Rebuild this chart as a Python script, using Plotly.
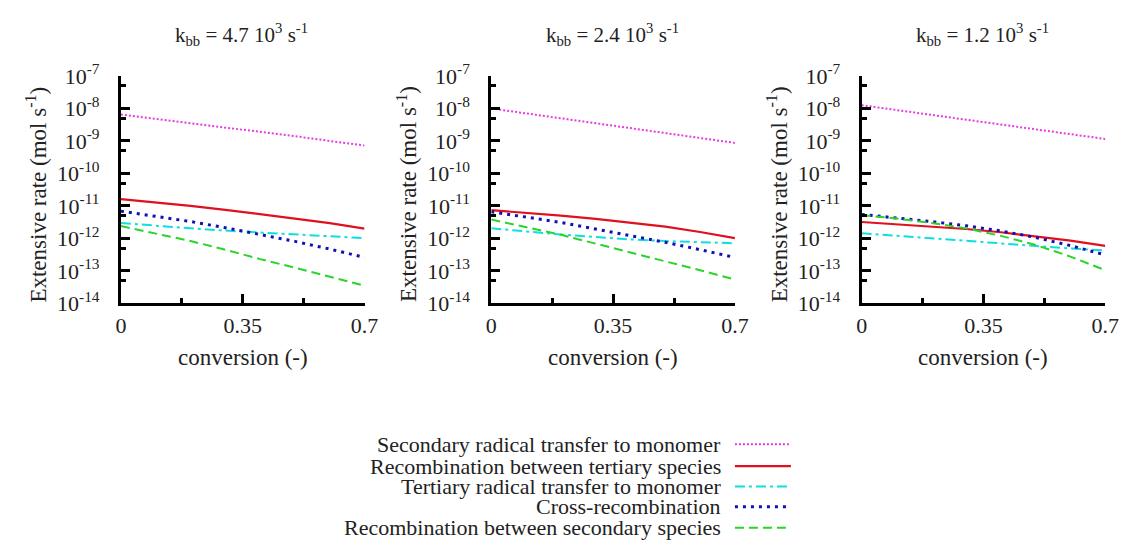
import plotly.graph_objects as go

W, H = 1136, 553

# ---------------- data ----------------
conversion = [0.0, 0.1, 0.2, 0.3, 0.4, 0.5, 0.6, 0.7]

panel_titles = [
    "k<sub>bb</sub> = 4.7 10<sup>3</sup> s<sup>-1</sup>",
    "k<sub>bb</sub> = 2.4 10<sup>3</sup> s<sup>-1</sup>",
    "k<sub>bb</sub> = 1.2 10<sup>3</sup> s<sup>-1</sup>",
]

series_names = [
    "Secondary radical transfer to monomer",
    "Recombination between tertiary species",
    "Tertiary radical transfer to monomer",
    "Cross-recombination",
    "Recombination between secondary species",
]

# kbb = 4.7e3
sec_transfer_47 = [6.5e-9, 4.8e-9, 3.5e-9, 2.5e-9, 1.9e-9, 1.4e-9, 1.0e-9, 7.2e-10]
tert_recomb_47 = [1.62e-11, 1.29e-11, 1.0e-11, 7.6e-12, 5.6e-12, 4.1e-12, 2.95e-12, 2.0e-12]
tert_transfer_47 = [3.0e-12, 2.45e-12, 2.04e-12, 1.74e-12, 1.51e-12, 1.32e-12, 1.15e-12, 1.02e-12]
cross_recomb_47 = [6.9e-12, 4.9e-12, 3.3e-12, 2.14e-12, 1.35e-12, 8.1e-13, 4.7e-13, 2.6e-13]
sec_recomb_47 = [2.4e-12, 1.45e-12, 8.3e-13, 4.5e-13, 2.3e-13, 1.26e-13, 6.8e-14, 3.5e-14]

# kbb = 2.4e3
sec_transfer_24 = [1.0e-8, 7.1e-9, 5.0e-9, 3.5e-9, 2.45e-9, 1.74e-9, 1.23e-9, 8.7e-10]
tert_recomb_24 = [7.4e-12, 6.2e-12, 5.0e-12, 4.0e-12, 3.1e-12, 2.3e-12, 1.58e-12, 1.02e-12]
tert_transfer_24 = [2.04e-12, 1.62e-12, 1.32e-12, 1.1e-12, 9.3e-13, 8.3e-13, 7.6e-13, 7.1e-13]
cross_recomb_24 = [6.6e-12, 4.6e-12, 3.1e-12, 1.95e-12, 1.23e-12, 7.6e-13, 4.5e-13, 2.6e-13]
sec_recomb_24 = [3.8e-12, 2.24e-12, 1.29e-12, 6.9e-13, 3.7e-13, 2.0e-13, 1.05e-13, 5.4e-14]

# kbb = 1.2e3
sec_transfer_12 = [1.26e-8, 8.9e-9, 6.3e-9, 4.5e-9, 3.2e-9, 2.3e-9, 1.62e-9, 1.15e-9]
tert_recomb_12 = [3.2e-12, 2.75e-12, 2.34e-12, 1.95e-12, 1.55e-12, 1.17e-12, 8.5e-13, 5.9e-13]
tert_transfer_12 = [1.45e-12, 1.2e-12, 1.0e-12, 8.3e-13, 6.8e-13, 5.8e-13, 4.9e-13, 4.3e-13]
cross_recomb_12 = [5.5e-12, 4.3e-12, 3.3e-12, 2.45e-12, 1.7e-12, 1.07e-12, 6.0e-13, 3.1e-13]
sec_recomb_12 = [5.2e-12, 4.1e-12, 3.0e-12, 2.04e-12, 1.2e-12, 6.3e-13, 2.75e-13, 1.05e-13]

panels = [
    [sec_transfer_47, tert_recomb_47, tert_transfer_47, cross_recomb_47, sec_recomb_47],
    [sec_transfer_24, tert_recomb_24, tert_transfer_24, cross_recomb_24, sec_recomb_24],
    [sec_transfer_12, tert_recomb_12, tert_transfer_12, cross_recomb_12, sec_recomb_12],
]

y_tickvals = [1e-14, 1e-13, 1e-12, 1e-11, 1e-10, 1e-9, 1e-8, 1e-7]
y_ticktext = ["10<sup>-14</sup>", "10<sup>-13</sup>", "10<sup>-12</sup>", "10<sup>-11</sup>",
              "10<sup>-10</sup>", "10<sup>-9</sup>", "10<sup>-8</sup>", "10<sup>-7</sup>"]
y_minor_vals = [5e-14, 5e-13, 5e-12, 5e-11, 5e-10, 5e-9, 5e-8]
x_tickvals = [0, 0.35, 0.7]
x_ticktext = ["0", "0.35", "0.7"]
x_minor_vals = [0.175, 0.525]

# ---------------- styles ----------------
styles = [
    dict(color="#e63be6", width=2, dash="2px,2px"),
    dict(color="#e0101e", width=2.2, dash="solid"),
    dict(color="#10dede", width=2, dash="10px,4px,3px,4px"),
    dict(color="#1010b4", width=3, dash="3px,5px"),
    dict(color="#2ad42a", width=2, dash="9px,5px"),
]

FONT = "Liberation Serif"
FS_TICK = 22
FS_AXT = 23
FS_TITLE = 21
FS_LEG = 22
TXT = "#222222"


def mkfont(size):
    return dict(family=FONT, size=size, color=TXT)


# pixel geometry of the three plot frames
x_px = [(117, 365), (494, 742), (871, 1119)]
y_top_px, y_bot_px = 63.3, 303.3
title_cx = [240, 617.5, 994]
ytitle_cx = [31, 408, 785]


def px_x(p):
    return p / W


def px_y(p):
    return 1 - p / H


fig = go.Figure()
annotations = []
shapes = []
axes = {}

for i, data in enumerate(panels):
    xa = "x" if i == 0 else f"x{i+1}"
    ya = "y" if i == 0 else f"y{i+1}"
    for j, vals in enumerate(data):
        fig.add_trace(go.Scatter(
            x=conversion, y=vals, mode="lines", name=series_names[j],
            line=dict(color=styles[j]["color"], width=styles[j]["width"], dash=styles[j]["dash"]),
            xaxis=xa, yaxis=ya, showlegend=False,
        ))
    xkey = "xaxis" if i == 0 else f"xaxis{i+1}"
    ykey = "yaxis" if i == 0 else f"yaxis{i+1}"
    axes[xkey] = dict(
        domain=[px_x(x_px[i][0]), px_x(x_px[i][1])], anchor=ya,
        range=[0, 0.7], tickmode="array", tickvals=x_tickvals, ticktext=x_ticktext,
        ticks="inside", ticklen=9, tickwidth=2.5, tickcolor="black",
        showline=True, linecolor="black", linewidth=3, showgrid=False, zeroline=False,
        tickfont=mkfont(FS_TICK), ticklabelstandoff=0,
        minor=dict(tickmode="array", tickvals=x_minor_vals, ticks="inside", ticklen=5,
                   tickwidth=2.5, tickcolor="black", showgrid=False),
    )
    axes[ykey] = dict(
        domain=[px_y(y_bot_px), px_y(y_top_px)], anchor=xa, type="log",
        range=[-14, -7], tickmode="array", tickvals=y_tickvals, ticktext=y_ticktext,
        ticks="inside", ticklen=9, tickwidth=2.5, tickcolor="black",
        showline=True, linecolor="black", linewidth=3, showgrid=False, zeroline=False,
        tickfont=mkfont(FS_TICK), ticklabelstandoff=14,
        minor=dict(tickmode="array", tickvals=y_minor_vals, ticks="inside", ticklen=5,
                   tickwidth=2.5, tickcolor="black", showgrid=False),
    )
    annotations.append(dict(
        text=panel_titles[i], xref="paper", yref="paper", x=px_x(title_cx[i]), y=px_y(20),
        xanchor="center", yanchor="middle", showarrow=False, font=mkfont(FS_TITLE),
    ))
    annotations.append(dict(
        text="Extensive rate (mol s<sup>-1</sup>)", xref="paper", yref="paper",
        x=px_x(ytitle_cx[i]), y=px_y(188), textangle=-90,
        xanchor="center", yanchor="middle", showarrow=False, font=mkfont(FS_AXT),
    ))
    annotations.append(dict(
        text="conversion (-)", xref="paper", yref="paper",
        x=px_x((x_px[i][0] + x_px[i][1]) / 2), y=px_y(360),
        xanchor="center", yanchor="middle", showarrow=False, font=mkfont(FS_AXT),
    ))

# ---------------- manual legend (text left, sample right) ----------------
legend_rows_px = [452, 475, 496.5, 518, 540]
for j, name in enumerate(series_names):
    yy = px_y(legend_rows_px[j])
    annotations.append(dict(
        text=name, xref="paper", yref="paper", x=px_x(730), y=yy,
        xanchor="right", yanchor="middle", showarrow=False, font=mkfont(FS_LEG),
    ))
    shapes.append(dict(
        type="line", xref="paper", yref="paper",
        x0=px_x(742), x1=px_x(799), y0=yy, y1=yy,
        line=dict(color=styles[j]["color"], width=styles[j]["width"], dash=styles[j]["dash"]),
    ))

fig.update_layout(
    width=W, height=H,
    margin=dict(l=0, r=0, t=0, b=0),
    paper_bgcolor="white", plot_bgcolor="white",
    showlegend=False,
    font=mkfont(FS_TICK),
    annotations=annotations, shapes=shapes,
    **axes,
)
fig.write_html("out.html")
